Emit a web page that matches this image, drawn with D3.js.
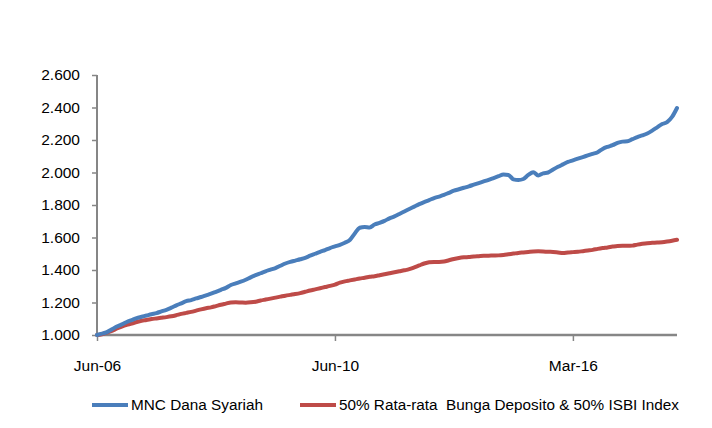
<!DOCTYPE html>
<html><head><meta charset="utf-8">
<script src="https://cdn.jsdelivr.net/npm/d3@7"></script>
<style>body{margin:0;background:#fff}svg{display:block}text{font-family:"Liberation Sans",Arial,sans-serif}</style>
</head><body><svg id="c" width="712" height="428"></svg>
<script>
const seriesNames = ["MNC Dana Syariah", "50% Rata-rata  Bunga Deposito & 50% ISBI Index"];
const tickLabels = ["Jun-06", "Jun-10", "Mar-16"];
const tickEvery = 48;
const yTicks = [1.0, 1.2, 1.4, 1.6, 1.8, 2.0, 2.2, 2.4, 2.6];
const mncDanaSyariah = [1.000,1.008,1.018,1.035,1.052,1.065,1.080,1.092,1.104,1.112,1.120,1.128,1.135,1.145,1.155,1.168,1.182,1.195,1.208,1.215,1.225,1.234,1.244,1.254,1.266,1.278,1.290,1.308,1.318,1.328,1.340,1.355,1.368,1.380,1.392,1.402,1.412,1.426,1.440,1.450,1.458,1.466,1.475,1.488,1.500,1.512,1.523,1.535,1.545,1.555,1.568,1.585,1.625,1.660,1.665,1.662,1.680,1.690,1.702,1.718,1.730,1.745,1.760,1.775,1.790,1.805,1.818,1.830,1.843,1.852,1.862,1.875,1.888,1.897,1.906,1.915,1.925,1.935,1.945,1.955,1.966,1.977,1.988,1.985,1.958,1.954,1.960,1.985,2.002,1.982,1.995,2.000,2.018,2.035,2.050,2.065,2.075,2.085,2.095,2.105,2.115,2.125,2.145,2.158,2.168,2.182,2.190,2.192,2.205,2.218,2.228,2.240,2.258,2.278,2.298,2.310,2.342,2.397];
const benchmark = [1.000,1.005,1.015,1.025,1.040,1.052,1.062,1.070,1.080,1.088,1.092,1.098,1.102,1.106,1.110,1.115,1.122,1.130,1.136,1.142,1.150,1.158,1.165,1.170,1.178,1.186,1.193,1.200,1.201,1.200,1.199,1.201,1.205,1.212,1.218,1.224,1.230,1.236,1.242,1.247,1.252,1.258,1.266,1.274,1.281,1.288,1.295,1.302,1.310,1.322,1.330,1.336,1.342,1.348,1.352,1.358,1.362,1.368,1.374,1.380,1.386,1.392,1.398,1.405,1.416,1.428,1.440,1.448,1.450,1.450,1.452,1.460,1.468,1.474,1.478,1.480,1.483,1.485,1.487,1.488,1.489,1.490,1.493,1.497,1.501,1.505,1.508,1.511,1.514,1.515,1.514,1.512,1.511,1.508,1.505,1.508,1.510,1.512,1.516,1.520,1.524,1.530,1.535,1.539,1.544,1.548,1.549,1.549,1.550,1.556,1.561,1.565,1.567,1.569,1.571,1.575,1.580,1.586];
const colors = ["#4A7EBB", "#BE4B48"];
const FS = 15.5;

const svg = d3.select("#c");
const x = d3.scaleLinear().domain([0, mncDanaSyariah.length - 1]).range([97, 677]);
const y = d3.scaleLinear().domain([1.0, 2.6]).range([335, 75]);

const ya = svg.append("g").attr("transform", "translate(97,0)")
  .call(d3.axisLeft(y).tickValues(yTicks).tickSize(5).tickPadding(12).tickFormat(d => d3.format(".3f")(d)));
ya.select(".domain").attr("stroke", "#868686").attr("stroke-width", 2).attr("d", "M0,75V335");
ya.selectAll(".tick line").attr("stroke", "#868686").attr("stroke-width", 1.5);
ya.selectAll("text").attr("font-size", FS).attr("fill", "#000");

const idx = tickLabels.map((d, i) => i * tickEvery);
const xa = svg.append("g").attr("transform", "translate(0,335)")
  .call(d3.axisBottom(x).tickValues(idx).tickSize(6).tickPadding(19).tickFormat((d, i) => tickLabels[i]));
xa.select(".domain").attr("stroke", "#868686").attr("stroke-width", 2.5).attr("d", "M97,0H677");
xa.selectAll(".tick line").attr("stroke", "#868686").attr("stroke-width", 1.5);
xa.selectAll("text").attr("font-size", FS).attr("fill", "#000");

const line = d3.line().x((d, i) => x(i)).y(d => y(d)).curve(d3.curveMonotoneX);
[benchmark, mncDanaSyariah].forEach((s, k) => {
  svg.append("path").datum(s).attr("d", line).attr("fill", "none")
    .attr("stroke", colors[1 - k]).attr("stroke-width", 4).attr("stroke-linejoin", "round").attr("stroke-linecap", "round");
});

const leg = [{x: 92, name: seriesNames[0], c: colors[0], w: 132}, {x: 300, name: seriesNames[1], c: colors[1], w: 340}];
leg.forEach(l => {
  svg.append("line").attr("x1", l.x).attr("x2", l.x + 36).attr("y1", 405).attr("y2", 405)
    .attr("stroke", l.c).attr("stroke-width", 4);
  svg.append("text").attr("x", l.x + 39).attr("y", 405).attr("dy", "0.35em")
    .attr("font-size", FS).attr("textLength", l.w).attr("lengthAdjust", "spacingAndGlyphs")
    .style("white-space", "pre").text(l.name);
});
</script></body></html>
